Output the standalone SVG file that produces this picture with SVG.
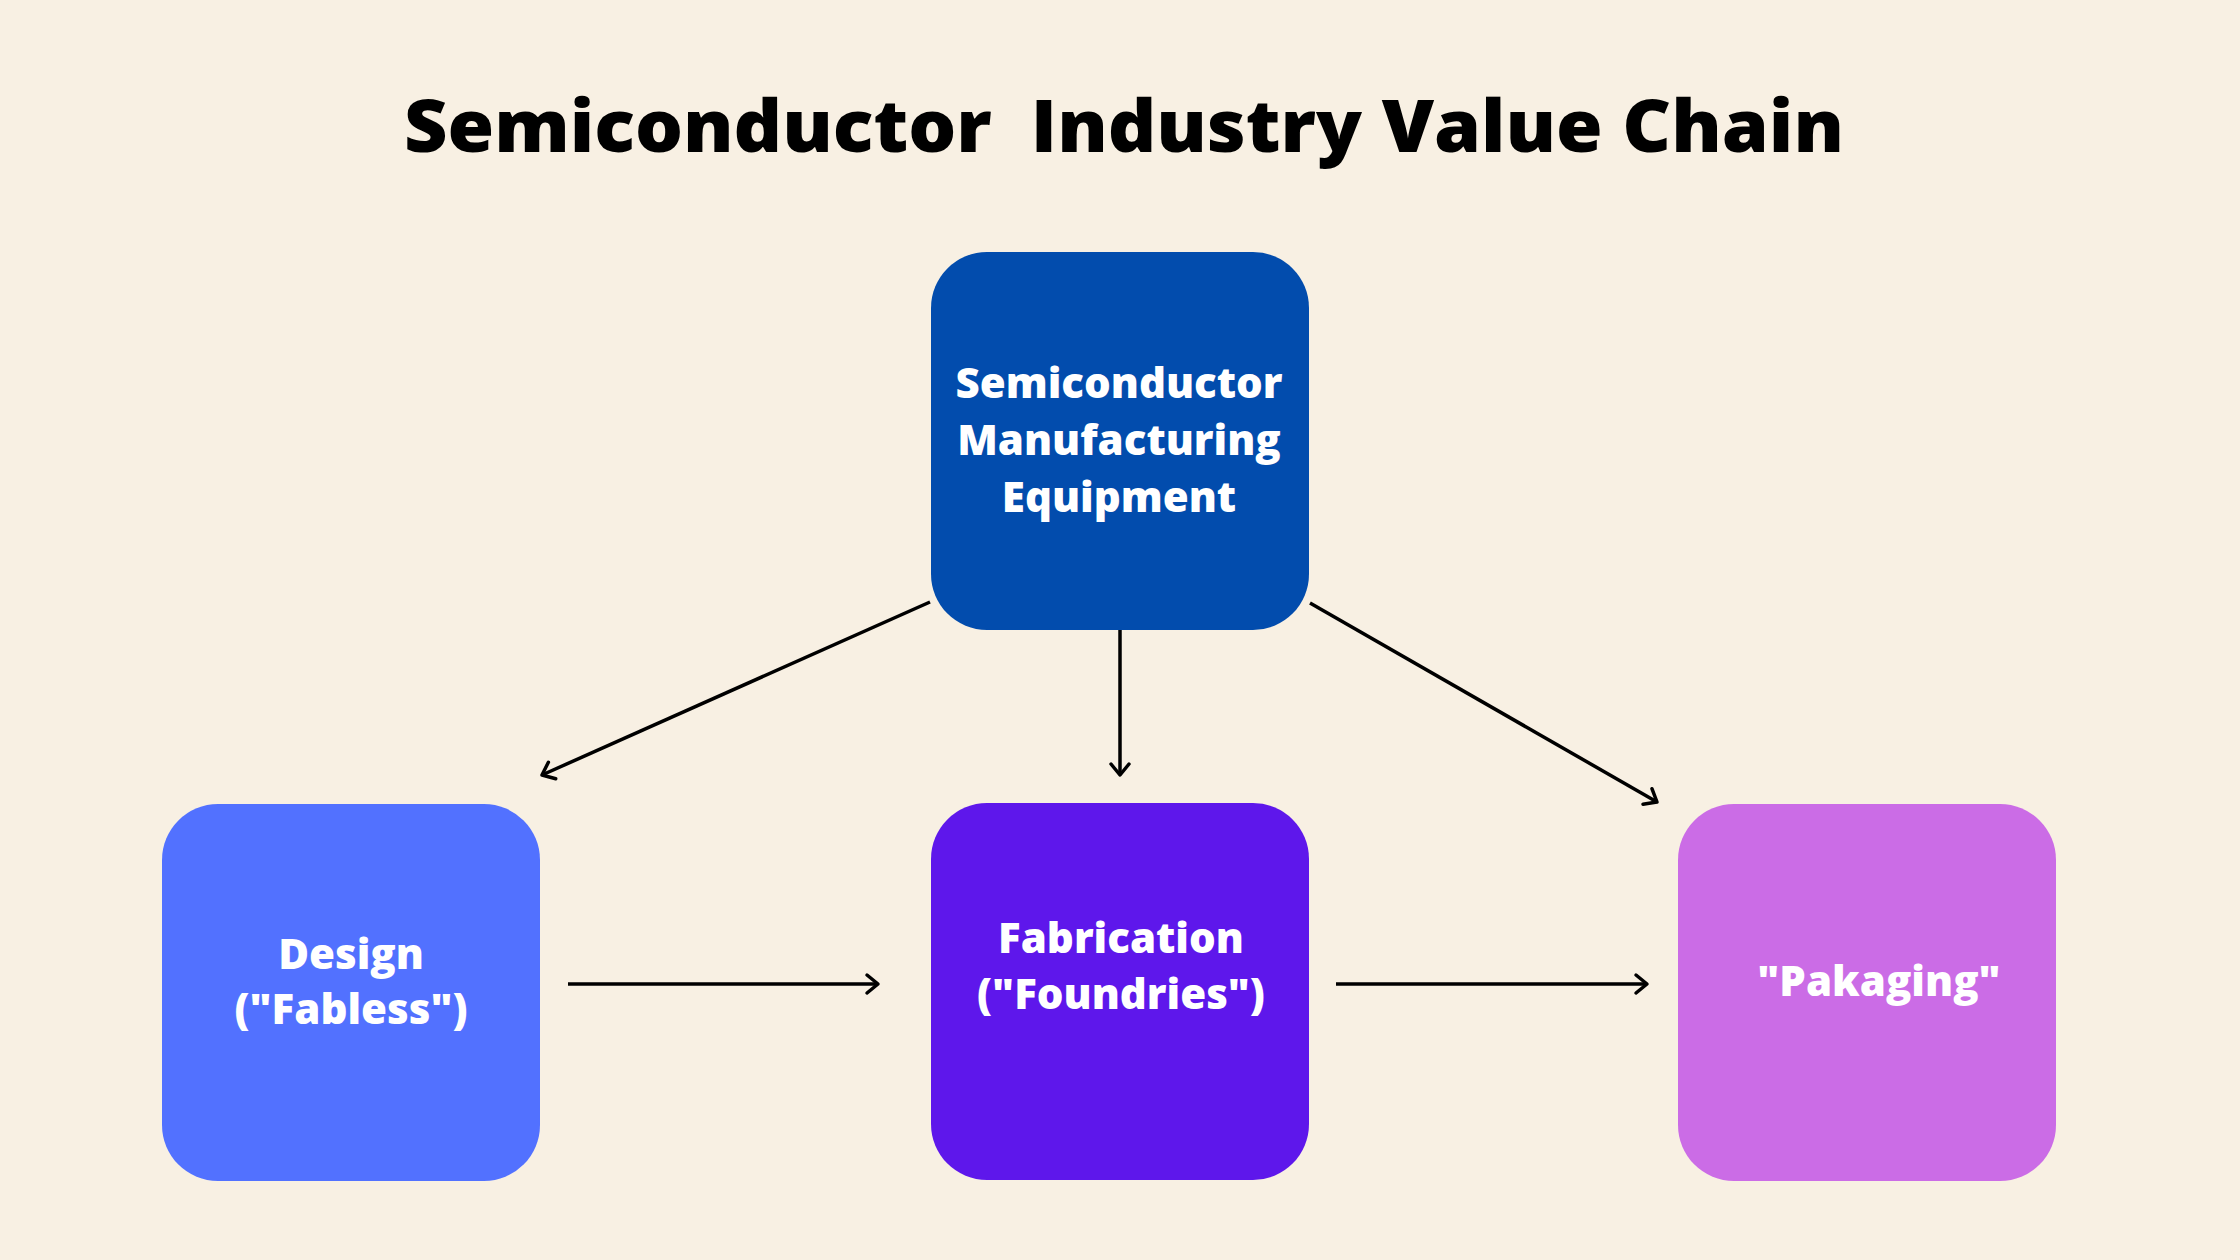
<svg xmlns="http://www.w3.org/2000/svg" width="2240" height="1260" viewBox="0 0 2240 1260">
  <defs>
    <marker id="arr" markerUnits="userSpaceOnUse" markerWidth="24" markerHeight="24" viewBox="-16 -12 24 24" refX="0" refY="0" orient="auto">
      <polyline points="-11,-9 0,0 -11,9" fill="none" stroke="#000" stroke-width="3.5" stroke-linecap="round" stroke-linejoin="round"/>
    </marker>
    <style>
      .title { font-family: "Open Sans", "Liberation Sans", sans-serif; font-weight: 800; font-size: 72px; fill: #000; }
      .lbl { font-family: "Open Sans", "Liberation Sans", sans-serif; font-weight: 800; font-size: 42px; fill: #fff; text-anchor: middle; }
      .conn { stroke: #000; stroke-width: 3.5; fill: none; marker-end: url(#arr); }
    </style>
  </defs>
  <rect width="2240" height="1260" fill="#F8F0E3"/>
  <text class="title" x="404" y="152" textLength="1440" lengthAdjust="spacingAndGlyphs" xml:space="preserve">Semiconductor  Industry Value Chain</text>

  <g id="connectors">
    <line class="conn" x1="930" y1="602" x2="542" y2="775"/>
    <line class="conn" x1="1120" y1="630" x2="1120" y2="775"/>
    <line class="conn" x1="1310" y1="603" x2="1657" y2="802"/>
    <line class="conn" x1="568" y1="984" x2="878" y2="984"/>
    <line class="conn" x1="1336" y1="984" x2="1647" y2="984"/>
  </g>

  <g id="node-sme">
    <rect x="931" y="252" width="378" height="378" rx="56" fill="#024CAD"/>
    <text class="lbl" x="1119" y="398">Semiconductor</text>
    <text class="lbl" x="1119" y="455">Manufacturing</text>
    <text class="lbl" x="1119" y="512">Equipment</text>
  </g>

  <g id="node-design">
    <rect x="162" y="804" width="378" height="377" rx="56" fill="#5271FF"/>
    <text class="lbl" x="351" y="969">Design</text>
    <text class="lbl" x="351" y="1024">("Fabless")</text>
  </g>

  <g id="node-fab">
    <rect x="931" y="803" width="378" height="377" rx="56" fill="#5E17EB"/>
    <text class="lbl" x="1121" y="953">Fabrication</text>
    <text class="lbl" x="1121" y="1009">("Foundries")</text>
  </g>

  <g id="node-pack">
    <rect x="1678" y="804" width="378" height="377" rx="56" fill="#CB6CE6"/>
    <text class="lbl" x="1879" y="996">"Pakaging"</text>
  </g>
</svg>
